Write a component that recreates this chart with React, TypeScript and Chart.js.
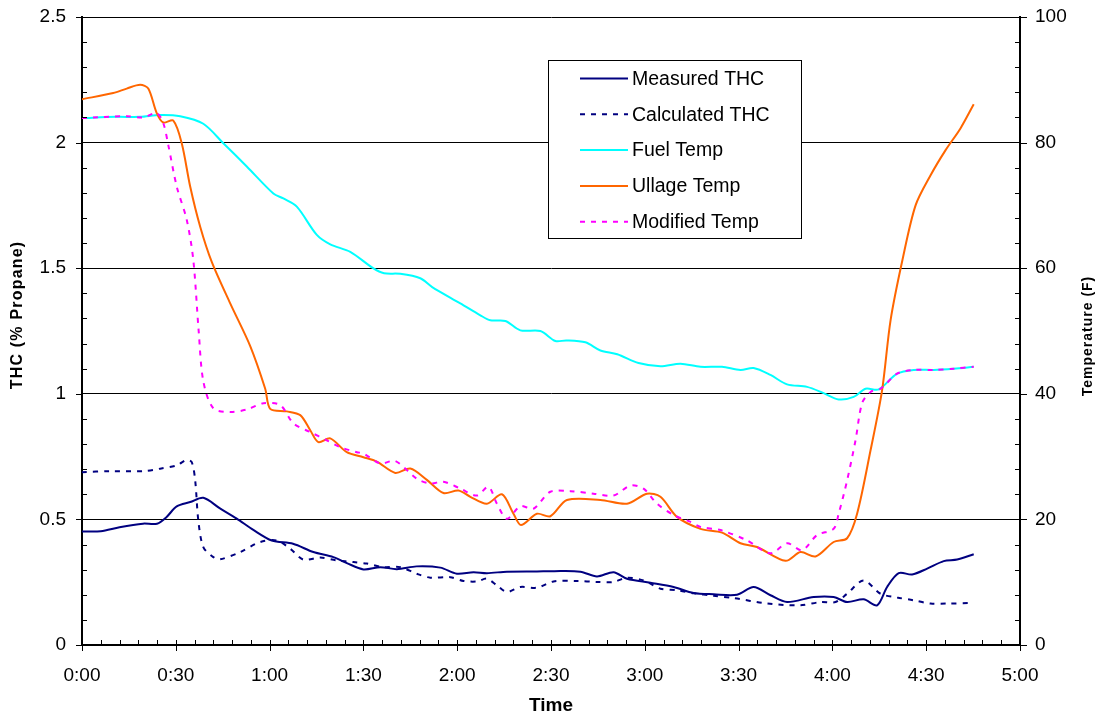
import React, { useEffect, useRef } from 'react';
import { Chart, registerables } from 'chart.js';

Chart.register(...registerables);

const FONT = "'Liberation Sans', Arial, Helvetica, sans-serif";

// ---- X axis (minutes) ----
const xMajorTicks = [0, 30, 60, 90, 120, 150, 180, 210, 240, 270, 300];
const xMajorLabels = ['0:00', '0:30', '1:00', '1:30', '2:00', '2:30', '3:00', '3:30', '4:00', '4:30', '5:00'];
const xMinorStep = 6;

// ---- Left axis (THC) ----
const yLeftLabels = [0, 0.5, 1, 1.5, 2, 2.5];
const yLeftMinorStep = 0.1;
// ---- Right axis (Temperature) ----
const yRightLabels = [0, 20, 40, 60, 80, 100];
const yRightMinorStep = 4;

// ---- Measured THC ----
const measuredTime = [0, 6, 12, 19.5, 24, 27, 30.3, 34.6, 38.8, 44, 49.5, 54.8, 60.7, 67.5, 74, 80.4, 84.7, 90, 95.4, 100.7, 107, 114.6, 119.9, 125.2, 129.5, 135.9, 145.5, 150.8, 159.4, 164.7, 170, 174.3, 181.8, 189.2, 195.6, 202, 209.5, 214.8, 220.2, 225.5, 234, 240.4, 244.7, 250, 254.3, 257.5, 261.2, 265.5, 270.3, 275.6, 279.9, 285.2];
const measuredTHC = [0.452, 0.453, 0.469, 0.483, 0.483, 0.509, 0.552, 0.569, 0.586, 0.545, 0.503, 0.458, 0.416, 0.403, 0.37, 0.35, 0.326, 0.301, 0.31, 0.302, 0.313, 0.308, 0.284, 0.29, 0.286, 0.292, 0.293, 0.294, 0.292, 0.273, 0.29, 0.264, 0.248, 0.231, 0.207, 0.202, 0.2, 0.231, 0.198, 0.171, 0.191, 0.191, 0.171, 0.182, 0.158, 0.231, 0.286, 0.281, 0.304, 0.334, 0.34, 0.361];

// ---- Calculated THC ----
const calculatedTime = [0, 9, 19.6, 25, 30.3, 33.5, 35.1, 36.2, 37.2, 38.8, 42, 44.2, 50.6, 57, 62.3, 66.6, 70.8, 76.2, 81.5, 86.8, 91.1, 96.4, 101.8, 107, 111.4, 117.8, 122, 126.3, 129.5, 132.7, 135.9, 140.2, 145.5, 150.8, 158.3, 164.7, 170, 174.3, 179.6, 185, 190.3, 195.6, 202, 208.4, 219.1, 229.8, 236.2, 241, 244.7, 250, 255.4, 260.7, 266, 271.4, 276.7, 284.2];
const calculatedTHC = [0.688, 0.692, 0.692, 0.702, 0.715, 0.737, 0.728, 0.655, 0.496, 0.39, 0.35, 0.341, 0.37, 0.41, 0.416, 0.383, 0.34, 0.348, 0.337, 0.33, 0.324, 0.31, 0.31, 0.284, 0.268, 0.27, 0.255, 0.253, 0.264, 0.237, 0.211, 0.231, 0.228, 0.253, 0.255, 0.251, 0.251, 0.268, 0.257, 0.224, 0.218, 0.206, 0.196, 0.187, 0.165, 0.158, 0.171, 0.171, 0.204, 0.257, 0.204, 0.189, 0.178, 0.165, 0.165, 0.167];

// ---- Fuel Temp ----
const fuelTime = [0, 11, 18.6, 25, 31.4, 38.8, 45.2, 52.7, 61.2, 64.4, 68.7, 75.1, 79.4, 85.8, 93.1, 96.6, 101.8, 108.2, 112, 121, 127.4, 130.6, 135.4, 140.2, 146.6, 151.4, 154.9, 161, 165.8, 171.2, 178, 185, 191.4, 197.8, 204.7, 210.6, 214.8, 220.2, 225.5, 231.9, 237.2, 242, 246.8, 250.6, 254.8, 260.7, 266, 272.4, 278.8, 285.2];
const fuelTemp = [83.9, 84.1, 84.1, 84.4, 84.2, 83.0, 79.9, 76.2, 71.9, 71.1, 69.8, 65.3, 63.8, 62.6, 60.0, 59.2, 59.1, 58.4, 57.0, 54.4, 52.5, 51.7, 51.6, 50.1, 50.0, 48.4, 48.5, 48.2, 46.9, 46.3, 44.9, 44.4, 44.8, 44.3, 44.3, 43.8, 44.1, 43.0, 41.5, 41.1, 40.1, 39.1, 39.5, 40.8, 40.7, 43.2, 43.8, 43.8, 44.0, 44.3];

// ---- Ullage Temp ----
const ullageTime = [0, 10, 14.3, 18.6, 21.2, 23.9, 26, 29.2, 31.9, 34.6, 37.8, 41.5, 47.4, 53.8, 58.6, 60.2, 65.5, 69.8, 73, 75.6, 79.4, 84.7, 90, 94.3, 100.2, 105, 110.3, 115.6, 120.4, 124.2, 129.5, 134.3, 138, 140.4, 145.5, 149.8, 155.1, 165.8, 174.3, 180.7, 185, 190.3, 197.8, 204.7, 210.6, 215.9, 225, 229.8, 234.6, 240.4, 244.7, 247.9, 252.2, 255.9, 258.6, 262.4, 266.6, 271.4, 276.2, 281, 285.2];
const ullageTemp = [86.9, 87.9, 88.6, 89.2, 88.6, 84.7, 83.2, 83.5, 79.9, 73.0, 66.6, 61.0, 54.4, 47.6, 40.8, 37.6, 37.2, 36.6, 34.2, 32.3, 32.9, 30.7, 29.9, 29.2, 27.4, 28.1, 26.3, 24.2, 24.6, 23.6, 22.5, 24.0, 20.9, 19.1, 20.9, 20.5, 23.1, 23.1, 22.5, 24.1, 23.6, 20.4, 18.5, 17.9, 16.2, 15.6, 13.4, 14.8, 14.1, 16.4, 17.0, 20.9, 31.0, 40.6, 51.7, 61.3, 70.0, 74.8, 78.8, 82.3, 86.1];

// ---- Modified Temp ----
const modifiedTime = [0, 14.3, 19.6, 23.9, 26, 27.6, 30.3, 33.5, 35.6, 37.3, 38.8, 42, 47.4, 52.7, 58, 63.4, 67.6, 73, 78.3, 82.6, 87.9, 90, 95.4, 100.2, 107, 111.4, 115.6, 121, 126.3, 130, 132.7, 135.9, 140.2, 144.4, 149.8, 156.2, 163.6, 170, 175.4, 179.6, 183.9, 189.2, 194.6, 197.8, 204.2, 212.5, 220.2, 225.5, 230.3, 235.1, 240.4, 242, 244.7, 247.4, 249.5, 252.2, 255.4, 260.7, 266, 272.4, 278.8, 285.2];
const modifiedTemp = [83.9, 84.2, 84.0, 84.7, 83.1, 79.6, 73.0, 67.7, 61.3, 50.1, 42.0, 37.7, 37.1, 37.5, 38.5, 38.2, 35.3, 33.9, 32.6, 31.5, 30.7, 30.5, 28.9, 29.3, 26.5, 25.7, 26.0, 24.9, 23.8, 25.2, 22.5, 20.1, 22.1, 21.7, 24.4, 24.5, 24.1, 23.8, 25.4, 24.9, 22.5, 20.7, 19.6, 18.8, 18.3, 16.7, 14.6, 16.2, 15.1, 17.5, 18.5, 20.9, 26.2, 32.6, 38.5, 40.3, 40.8, 43.2, 43.8, 43.8, 44.0, 44.3];

const seriesLabels = ['Measured THC', 'Calculated THC', 'Fuel Temp', 'Ullage Temp', 'Modified Temp'];

const pts = (t: number[], v: number[]) => t.map((x, i) => ({ x, y: v[i] }));
const near = (a: number, b: number) => Math.abs(a - b) < 1e-6;
const isIn = (v: number, arr: number[]) => arr.some((a) => near(a, v));
const stepTicks = (min: number, max: number, step: number) => {
  const out: { value: number }[] = [];
  const n = Math.round((max - min) / step);
  for (let i = 0; i <= n; i++) out.push({ value: Math.round((min + i * step) * 1e6) / 1e6 });
  return out;
};

const tickMarksPlugin = {
  id: 'tickMarks',
  afterDraw(chart: any) {
    const { ctx, chartArea: a, scales } = chart;
    ctx.save();
    ctx.strokeStyle = '#000';
    ctx.lineWidth = 1;
    ctx.beginPath();
    scales.x.ticks.forEach((t: any) => {
      const px = Math.round(scales.x.getPixelForValue(t.value)) + 0.5;
      const major = isIn(t.value, xMajorTicks);
      ctx.moveTo(px, a.bottom - 5);
      ctx.lineTo(px, major ? a.bottom + 6 : a.bottom);
    });
    scales.y.ticks.forEach((t: any) => {
      const py = Math.round(scales.y.getPixelForValue(t.value)) + 0.5;
      if (isIn(t.value, yLeftLabels)) {
        ctx.moveTo(a.left - 6, py);
        ctx.lineTo(a.left, py);
      } else {
        ctx.moveTo(a.left, py);
        ctx.lineTo(a.left + 5, py);
      }
    });
    scales.y1.ticks.forEach((t: any) => {
      const py = Math.round(scales.y1.getPixelForValue(t.value)) + 0.5;
      if (isIn(t.value, yRightLabels)) {
        ctx.moveTo(a.right, py);
        ctx.lineTo(a.right + 7, py);
      } else {
        ctx.moveTo(a.right - 5, py);
        ctx.lineTo(a.right, py);
      }
    });
    ctx.stroke();

    // axis titles
    ctx.fillStyle = '#000';
    ctx.textAlign = 'center';
    ctx.textBaseline = 'middle';
    ctx.font = `bold 19px ${FONT}`;
    ctx.fillText('Time', (a.left + a.right) / 2, 706);

    ctx.save();
    ctx.translate(18, 315);
    ctx.rotate(-Math.PI / 2);
    ctx.font = `bold 16px ${FONT}`;
    (ctx as any).letterSpacing = '1.2px';
    ctx.fillText('THC (% Propane)', 0, 0);
    ctx.restore();

    ctx.save();
    ctx.translate(1088, 336);
    ctx.rotate(-Math.PI / 2);
    ctx.font = `bold 14px ${FONT}`;
    (ctx as any).letterSpacing = '1px';
    ctx.fillText('Temperature (F)', 0, 0);
    ctx.restore();

    // legend box
    const lx = 548, ly = 60, lw = 253, lh = 178;
    ctx.fillStyle = '#fff';
    ctx.fillRect(lx, ly, lw, lh);
    ctx.strokeStyle = '#000';
    ctx.lineWidth = 1;
    ctx.strokeRect(lx + 0.5, ly + 0.5, lw, lh);
    chart.data.datasets.forEach((ds: any, i: number) => {
      const y = ly + 18.5 + i * 35.8;
      ctx.beginPath();
      ctx.strokeStyle = ds.borderColor;
      ctx.lineWidth = ds.borderWidth;
      ctx.setLineDash(ds.borderDash || []);
      ctx.moveTo(580, y);
      ctx.lineTo(628, y);
      ctx.stroke();
      ctx.setLineDash([]);
      ctx.fillStyle = '#000';
      ctx.font = `19.5px ${FONT}`;
      ctx.textAlign = 'left';
      ctx.textBaseline = 'middle';
      ctx.fillText(ds.label, 632, y + 1);
    });
    ctx.restore();
  },
};

export default function App() {
  const ref = useRef<HTMLCanvasElement>(null);
  useEffect(() => {
    if (!ref.current) return;
    const common = { pointRadius: 0, pointHoverRadius: 0, tension: 0.3, fill: false, borderWidth: 2 };
    const chart = new Chart(ref.current, {
      type: 'line',
      data: {
        datasets: [
          { ...common, label: seriesLabels[0], data: pts(measuredTime, measuredTHC), borderColor: '#000080', yAxisID: 'y', order: 5 },
          { ...common, label: seriesLabels[1], data: pts(calculatedTime, calculatedTHC), borderColor: '#000080', borderDash: [5, 6], yAxisID: 'y', order: 4 },
          { ...common, label: seriesLabels[2], data: pts(fuelTime, fuelTemp), borderColor: '#00FFFF', yAxisID: 'y1', order: 3 },
          { ...common, label: seriesLabels[3], data: pts(ullageTime, ullageTemp), borderColor: '#FF6600', yAxisID: 'y1', order: 2 },
          { ...common, label: seriesLabels[4], data: pts(modifiedTime, modifiedTemp), borderColor: '#FF00FF', borderDash: [5, 6], yAxisID: 'y1', order: 1 },
        ] as any,
      },
      options: {
        responsive: false,
        animation: false,
        devicePixelRatio: 1,
        layout: { padding: { top: 17, left: 0, right: 0, bottom: 0 } },
        plugins: { legend: { display: false }, tooltip: { enabled: false } },
        scales: {
          x: {
            type: 'linear',
            min: 0,
            max: 300,
            afterFit: (s: any) => { s.height = 76; s.paddingLeft = 0; s.paddingRight = 0; },
            afterBuildTicks: (s: any) => { s.ticks = stepTicks(0, 300, xMinorStep); },
            ticks: {
              autoSkip: false,
              maxRotation: 0,
              minRotation: 0,
              padding: 19,
              color: '#000',
              font: { family: FONT, size: 19 },
              callback: (v: any) => {
                const i = xMajorTicks.findIndex((m) => near(m, Number(v)));
                return i >= 0 ? xMajorLabels[i] : '';
              },
            },
            grid: { display: true, drawOnChartArea: false, drawTicks: false, color: 'rgba(0,0,0,0)' },
            border: { display: true, color: '#000', width: 2 },
          },
          y: {
            type: 'linear',
            position: 'left',
            min: 0,
            max: 2.5,
            afterFit: (s: any) => { s.width = 82; s.paddingTop = 0; s.paddingBottom = 0; },
            afterBuildTicks: (s: any) => { s.ticks = stepTicks(0, 2.5, yLeftMinorStep); },
            ticks: {
              autoSkip: false,
              padding: 16,
              color: '#000',
              font: { family: FONT, size: 19 },
              callback: (v: any) => (isIn(Number(v), yLeftLabels) ? String(Number(v)) : ''),
            },
            grid: {
              drawTicks: false,
              lineWidth: 1,
              color: (c: any) => (isIn(c.tick.value, yLeftLabels) ? '#000' : 'rgba(0,0,0,0)'),
            },
            border: { display: true, color: '#000', width: 2 },
          },
          y1: {
            type: 'linear',
            position: 'right',
            min: 0,
            max: 100,
            afterFit: (s: any) => { s.width = 77; s.paddingTop = 0; s.paddingBottom = 0; },
            afterBuildTicks: (s: any) => { s.ticks = stepTicks(0, 100, yRightMinorStep); },
            ticks: {
              autoSkip: false,
              padding: 15,
              color: '#000',
              font: { family: FONT, size: 19 },
              callback: (v: any) => (isIn(Number(v), yRightLabels) ? String(Number(v)) : ''),
            },
            grid: { drawOnChartArea: false, drawTicks: false, color: 'rgba(0,0,0,0)' },
            border: { display: true, color: '#000', width: 2 },
          },
        },
      } as any,
      plugins: [tickMarksPlugin],
    });
    return () => chart.destroy();
  }, []);
  return (
    <div style={{ position: 'absolute', left: 0, top: 0, width: 1097, height: 721, background: '#fff' }}>
      <canvas ref={ref} width={1097} height={721} style={{ display: 'block', width: 1097, height: 721 }} />
    </div>
  );
}
